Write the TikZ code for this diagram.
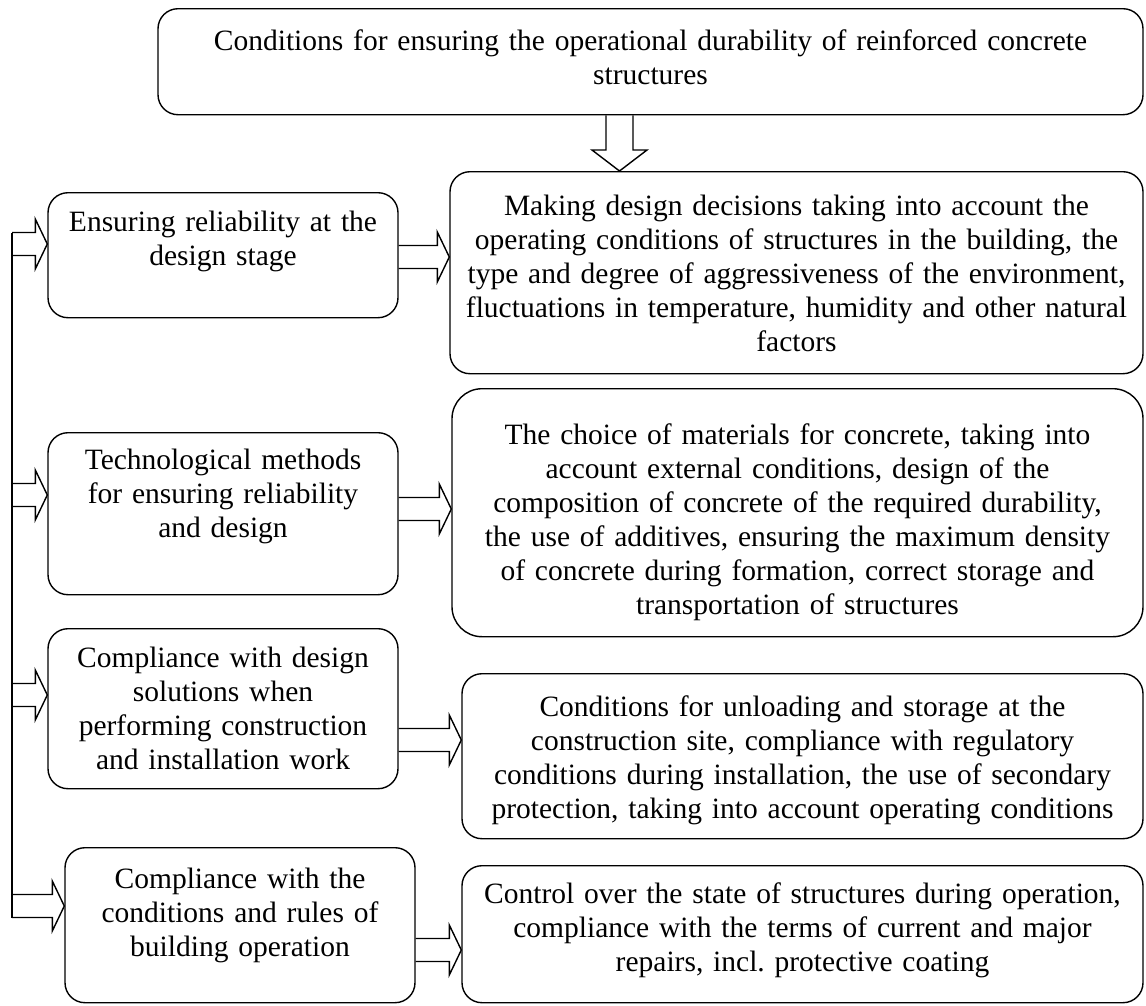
\documentclass[tikz,border=0pt]{standalone}
\usepackage{fontspec}
\setmainfont{Liberation Serif}
\usetikzlibrary{calc}
% hollow block arrows, left to right and downwards
\newcommand\harrow[2]{\draw let \p1=(#1),\p2=(#2) in (\x1,\y1+11.5pt) -- (\x2-12pt,\y1+11.5pt) -- (\x2-12pt,\y1+25pt) -- (\x2,\y1) -- (\x2-12pt,\y1-25pt) -- (\x2-12pt,\y1-11.5pt) -- (\x1,\y1-11.5pt);}
\newcommand\varrow[2]{\draw let \p1=(#1),\p2=(#2) in (\x1-13.5pt,\y1) -- (\x1-13.5pt,\y2+21pt) -- (\x1-27.5pt,\y2+21pt) -- (\x1,\y2) -- (\x1+27.5pt,\y2+21pt) -- (\x1+13.5pt,\y2+21pt) -- (\x1+13.5pt,\y1);}
\begin{document}
\begin{tikzpicture}[x=1pt,y=-1pt,line join=miter,line width=1.4pt,font=\fontsize{29.5}{34}\selectfont\frenchspacing,
  box/.style={draw,rounded corners=20pt,inner sep=0pt,align=center,anchor=north}]
\useasboundingbox (0,0) rectangle (1146,1005);
% boxes
\node[box,text width=985pt,text height=42pt,text depth=64pt] (top) at (650.5,8)
  {Conditions for ensuring the operational durability of reinforced concrete\\ structures};
\node[box,text width=350pt,text height=39pt,text depth=86pt] (l1) at (223,192)
  {Ensuring reliability at the\\ design stage};
\node[box,text width=693pt,text height=44pt,text depth=158pt] (r1) at (796.5,171)
  {Making design decisions taking into account the\\ operating conditions of structures in the building, the\\ type and degree of aggressiveness of the environment,\\ fluctuations in temperature, humidity and other natural\\ factors};
\node[box,text width=350pt,text height=37pt,text depth=125pt] (l2) at (223,432)
  {Technological methods\\ for ensuring reliability\\ and design};
\node[box,text width=691pt,text height=56pt,text depth=192pt,rounded corners=30pt] (r2) at (797.5,388)
  {The choice of materials for concrete, taking into\\ account external conditions, design of the\\ composition of concrete of the required durability,\\ the use of additives, ensuring the maximum density\\ of concrete during formation, correct storage and\\ transportation of structures};
\node[box,text width=350pt,text height=39pt,text depth=121pt] (l3) at (223,628)
  {Compliance with design\\ solutions when\\ performing construction\\ and installation work};
\node[box,text width=681pt,text height=43pt,text depth=122pt] (r3) at (802.5,673)
  {Conditions for unloading and storage at the\\ construction site, compliance with regulatory\\ conditions during installation, the use of secondary\\ protection, taking into account operating conditions};
\node[box,text width=350pt,text height=41pt,text depth=114pt] (l4) at (240,847)
  {Compliance with the\\ conditions and rules of\\ building operation};
\node[box,text width=681pt,text height=38pt,text depth=99pt] (r4) at (802.5,865)
  {Control over the state of structures during operation,\\ compliance with the terms of current and major\\ repairs, incl. protective coating};
% arrow levels
\coordinate (d0) at (619.5,0);
\coordinate (s1) at (12,244);
\coordinate (s2) at (12,495);
\coordinate (s3) at (12,695);
\coordinate (s4) at (12,906);
\coordinate (a1) at (0,257);
\coordinate (a2) at (0,509);
\coordinate (a3) at (0,740);
\coordinate (a4) at (0,950);
% arrows
\varrow{top.south -| d0}{r1.north -| d0}
\draw ($(s1)+(0,-11.5)$) -- ($(s4)+(0,11.5)$);
\harrow{s1}{l1.west |- s1}
\harrow{s2}{l2.west |- s2}
\harrow{s3}{l3.west |- s3}
\harrow{s4}{l4.west |- s4}
\harrow{l1.east |- a1}{r1.west |- a1}
\harrow{l2.east |- a2}{r2.west |- a2}
\harrow{l3.east |- a3}{r3.west |- a3}
\harrow{l4.east |- a4}{r4.west |- a4}
\end{tikzpicture}
\end{document}
